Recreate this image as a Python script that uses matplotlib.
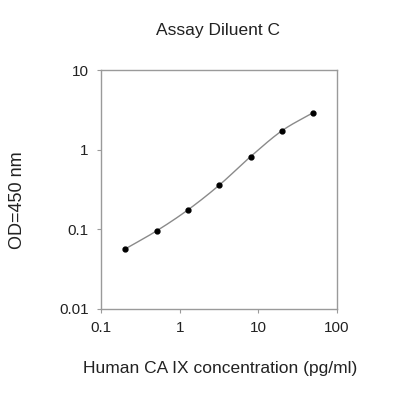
import numpy as np
import matplotlib
matplotlib.use("Agg")
import matplotlib.pyplot as plt

plt.rcParams['font.family'] = ['Liberation Sans', 'DejaVu Sans']

conc = [0.2048, 0.512, 1.28, 3.2, 8.0, 20.0, 50.0]
od = [0.057, 0.096, 0.176, 0.36, 0.82, 1.73, 2.92]
title = "Assay Diluent C"
xlabel = "Human CA IX concentration (pg/ml)"
ylabel = "OD=450 nm"
xticks = [0.1, 1, 10, 100]
xticklabels = ["0.1", "1", "10", "100"]
yticks = [0.01, 0.1, 1, 10]
yticklabels = ["0.01", "0.1", "1", "10"]


def catmull_rom(xs, ys, n=30):
    px = np.log10(xs); py = np.log10(ys)
    P = np.column_stack([px, py])
    P = np.vstack([2 * P[0] - P[1], P, 2 * P[-1] - P[-2]])
    out = []
    for i in range(1, len(P) - 2):
        p0, p1, p2, p3 = P[i - 1], P[i], P[i + 1], P[i + 2]
        t = np.linspace(0, 1, n, endpoint=(i == len(P) - 3))[:, None]
        seg = 0.5 * ((2 * p1) + (-p0 + p2) * t + (2 * p0 - 5 * p1 + 4 * p2 - p3) * t ** 2
                     + (-p0 + 3 * p1 - 3 * p2 + p3) * t ** 3)
        out.append(seg)
    out = np.vstack(out)
    return 10 ** out[:, 0], 10 ** out[:, 1]


fig = plt.figure(figsize=(4, 4), dpi=100)
ax = fig.add_axes([0.2525, 0.2275, 0.59, 0.5975])
sx, sy = catmull_rom(conc, od)
ax.plot(sx, sy, color='#8a8a8a', lw=1.0, zorder=2)
ax.plot(conc, od, 'o', color='black', ms=3.5, zorder=3)
ax.set_xscale('log'); ax.set_yscale('log')
ax.set_xlim(0.1, 100); ax.set_ylim(0.01, 10)
ax.set_xticks(xticks); ax.set_xticklabels(xticklabels)
ax.set_yticks(yticks); ax.set_yticklabels(yticklabels)
ax.minorticks_off()
for s in ax.spines.values():
    s.set_color('#9a9a9a'); s.set_linewidth(1.0)
ax.tick_params(length=3, color='#9a9a9a', labelsize=11, labelcolor='#222222', pad=6)
fig.text(0.545, 0.925, title, ha='center', va='center', fontsize=12.5, color='#222222')
fig.text(0.55, 0.0775, xlabel, ha='center', va='center', fontsize=12.5, color='#222222')
fig.text(0.045, 0.5, ylabel, ha='center', va='center', rotation=90, fontsize=13, color='#222222')
fig.savefig('out.png', dpi=100, facecolor='white')
